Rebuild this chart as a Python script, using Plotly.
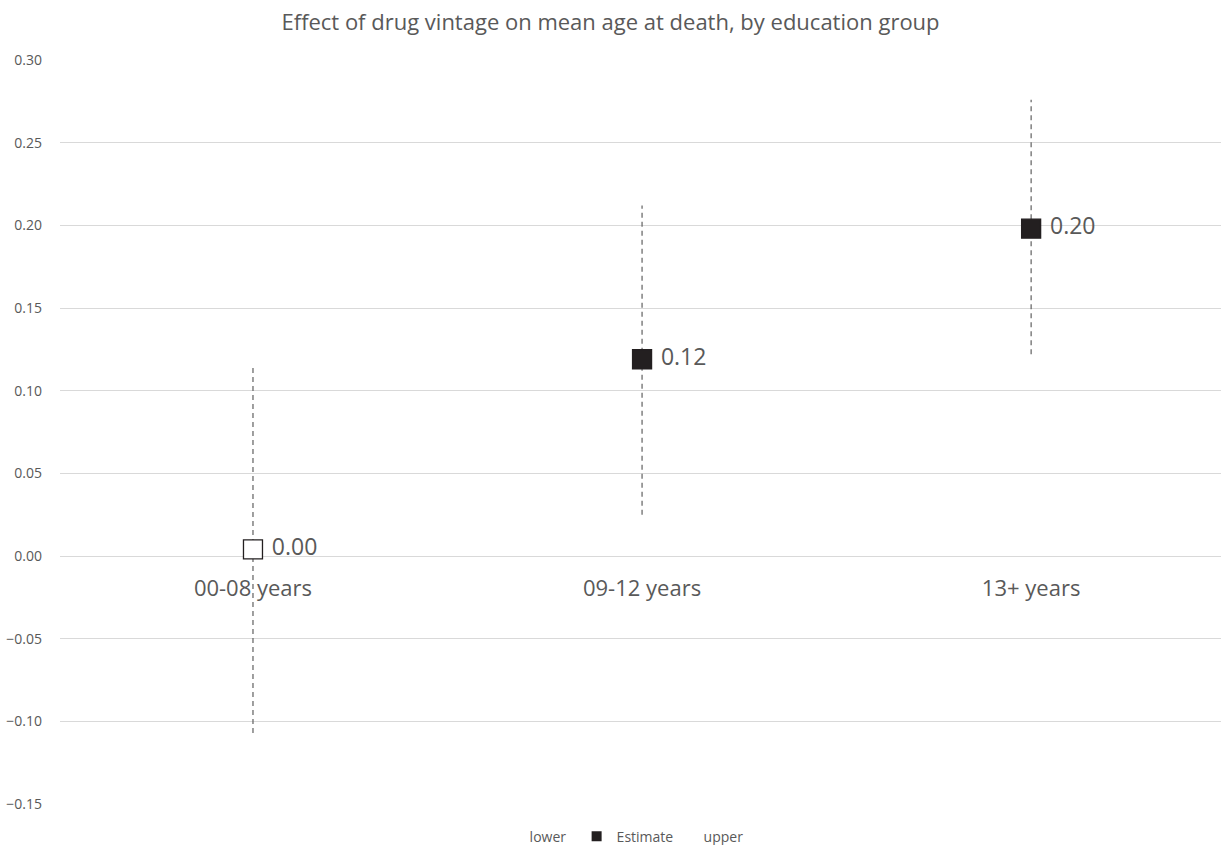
import plotly.graph_objects as go

categories = ["00-08 years", "09-12 years", "13+ years"]
estimate = [0.004, 0.119, 0.198]
lower = [-0.107, 0.025, 0.122]
upper = [0.116, 0.212, 0.276]
y_ticks = [-0.15, -0.10, -0.05, 0.00, 0.05, 0.10, 0.15, 0.20, 0.25, 0.30]

grey = "#595959"
dark = "#231f20"
font_family = "Open Sans, Liberation Sans, sans-serif"

xs = list(range(len(categories)))

# dashed interval lines
seg_x, seg_y = [], []
for i in xs:
    seg_x += [i, i, None]
    seg_y += [lower[i], upper[i], None]

clear = "rgba(0,0,0,0)"

fig = go.Figure()
fig.add_trace(go.Scatter(x=seg_x, y=seg_y, mode="lines", showlegend=False,
                         line=dict(color="#606060", width=1.2, dash="5px,4px"),
                         hoverinfo="skip"))
fig.add_trace(go.Scatter(x=xs, y=lower, mode="markers", name="lower",
                         marker=dict(size=10, color=clear), legendrank=1))
fig.add_trace(go.Scatter(
    x=xs, y=estimate, mode="markers+text", name="Estimate", showlegend=False,
    marker=dict(symbol="square", size=19,
                color=["white", dark, dark],
                line=dict(color=dark, width=1.3)),
    texttemplate=" %{y:.2f}", textposition="middle right",
    textfont=dict(size=23, color=grey, family=font_family)))
fig.add_trace(go.Scatter(x=[None], y=[None], mode="markers", name="Estimate",
                         marker=dict(symbol="square", size=10, color=dark),
                         legendrank=2))
fig.add_trace(go.Scatter(x=xs, y=upper, mode="markers", name="upper",
                         marker=dict(size=10, color=clear), legendrank=3))

fig.update_layout(
    width=1221, height=845,
    margin=dict(l=60, r=0, t=60, b=41, autoexpand=False),
    paper_bgcolor="white", plot_bgcolor="white",
    font=dict(family=font_family, color=grey),
    title=dict(text="Effect of drug vintage on mean age at death, by education group",
               x=0.5, xanchor="center", yref="container", y=0.974, yanchor="middle",
               font=dict(size=22, color=grey)),
    legend=dict(orientation="h", xref="container", x=0.401, xanchor="left",
                yref="container", y=0.01, yanchor="middle",
                font=dict(size=14, color=grey), itemwidth=30,
                entrywidth=42, entrywidthmode="pixels",
                traceorder="normal"),
    xaxis=dict(range=[-0.496, 2.488], tickmode="array", tickvals=xs,
               ticktext=categories, showgrid=False, zeroline=False,
               anchor="free", position=(0 - (-0.15)) / 0.45, automargin=False,
               showline=False, ticks="", ticklabelstandoff=17,
               tickfont=dict(size=22, color=grey)),
    yaxis=dict(range=[-0.15, 0.30], tickmode="array", tickvals=y_ticks,
               tickformat=".2f", showgrid=True, gridcolor="#d9d9d9",
               gridwidth=1, zeroline=False, showline=False, ticks="",
               automargin=False,
               ticklabelstandoff=17, tickfont=dict(size=14, color=grey)),
)

fig.write_html("out.html", config={"displayModeBar": False},
               post_script="document.body.style.margin='0';document.body.style.overflow='hidden';")
